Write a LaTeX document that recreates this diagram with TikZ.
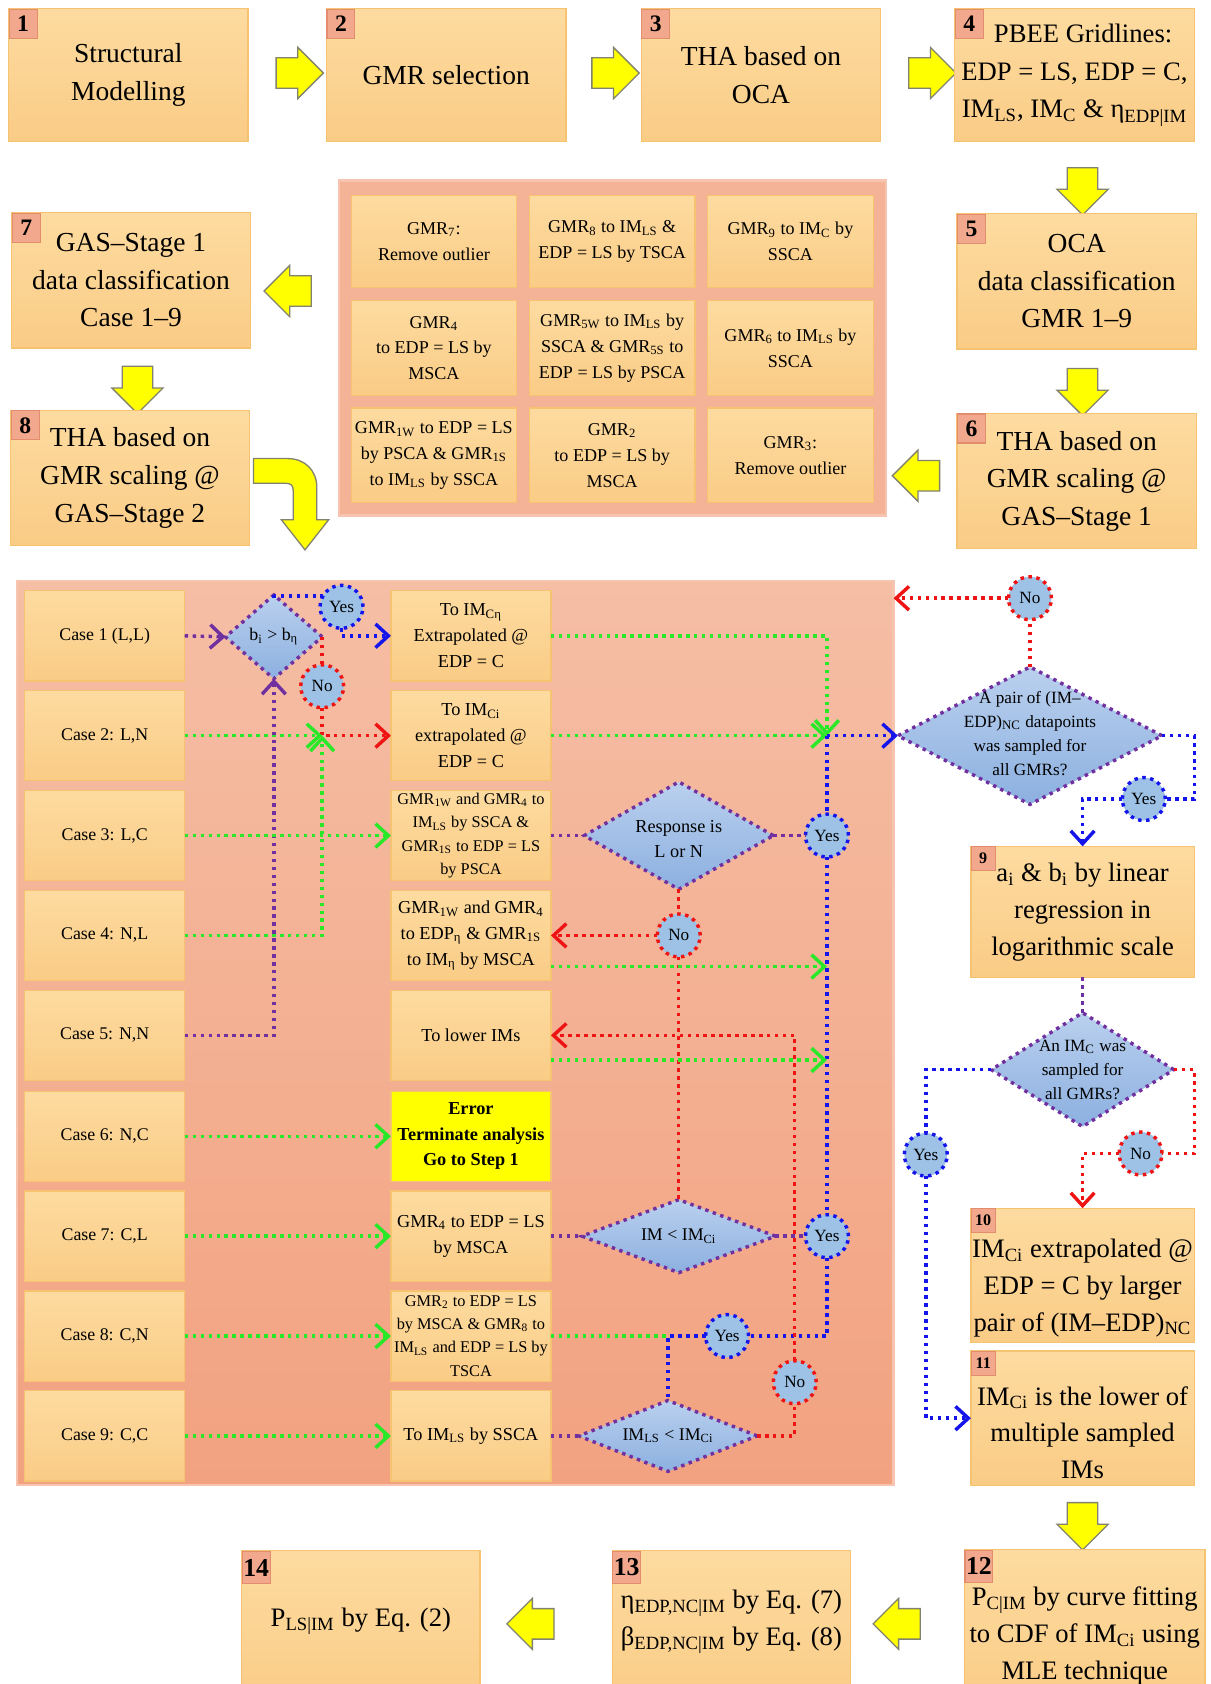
\documentclass[tikz,border=0pt]{standalone}
\usepackage{fontspec}
\setmainfont{Liberation Serif}
\usetikzlibrary{shapes.geometric,shapes.arrows,arrows.meta,calc}
\definecolor{boxtop}{RGB}{253,219,160}
\definecolor{boxbot}{RGB}{250,204,134}
\definecolor{boxedge}{RGB}{246,196,112}
\definecolor{panelA}{RGB}{245,190,165}
\definecolor{panelB}{RGB}{242,162,128}
\definecolor{paneledge}{RGB}{247,196,176}
\definecolor{gpfill}{RGB}{244,178,150}
\definecolor{numfill}{RGB}{242,168,140}
\definecolor{numedge}{RGB}{228,140,110}
\definecolor{diatop}{RGB}{186,208,238}
\definecolor{diabot}{RGB}{140,176,224}
\definecolor{circfill}{RGB}{157,194,230}
\definecolor{cpur}{RGB}{112,48,160}
\definecolor{cblu}{RGB}{20,20,235}
\definecolor{cred}{RGB}{238,20,20}
\definecolor{cgrn}{RGB}{40,232,40}
\definecolor{yarrfill}{RGB}{255,255,0}
\definecolor{yarredge}{RGB}{130,130,110}
\newcommand{\sbs}[1]{\textsubscript{#1}}
\newcommand{\fsz}[2]{\fontsize{#1}{#2}\selectfont}
\tikzset{
  rect/.style n args={4}{minimum width={(#3-#1)*0.5pt}, minimum height={(#4-#2)*0.5pt}, at={({(#1+#3)/2},{(#2+#4)/2})}},
  box/.style={rectangle, inner sep=0pt, outer sep=0pt, top color=boxtop, bottom color=boxbot, draw=boxedge, line width=0.6pt, align=center},
  errbox/.style={rectangle, inner sep=0pt, outer sep=0pt, fill=yarrfill, draw=boxedge, line width=0.6pt, align=center, font=\bfseries\fsz{8.5}{11.8}},
  pnl/.style={rectangle, inner sep=0pt, outer sep=0pt, fill=gpfill, draw=paneledge, line width=1pt},
  bpnl/.style={rectangle, inner sep=0pt, outer sep=0pt, top color=panelA, bottom color=panelB, draw=paneledge, line width=1pt},
  numl/.style={rectangle, fill=numfill, draw=numedge, line width=0.5pt, inner sep=0pt, anchor=north west, minimum width=13pt, minimum height=13.5pt, font=\bfseries\fsz{11}{11}},
  nums/.style={numl, minimum width=11pt, minimum height=11pt, font=\bfseries\fsz{7.5}{7.5}},
  numb/.style={numl, minimum width=13pt, minimum height=15pt, font=\bfseries\fsz{12}{12}},
  tf/.style={font=\fsz{12.8}{17.5}},
  tr/.style={align=center, inner sep=0pt, font=\fsz{12.4}{17.2}},
  cf/.style={font=\fsz{8.3}{11}},
  mf/.style={font=\fsz{8.5}{12}},
  ms/.style={font=\fsz{7.6}{10.8}},
  gf/.style={font=\fsz{8.4}{12}},
  dia/.style={diamond, inner sep=0pt, outer sep=0pt, top color=diatop, bottom color=diabot, draw=cpur, line width=1.6pt, dash pattern=on 1.6pt off 2.1pt},
  dtxt/.style={align=center, inner sep=0pt, font=\fsz{8.3}{11.3}},
  ycirc/.style={circle, inner sep=0pt, outer sep=0pt, minimum size=20pt, fill=circfill, draw=cblu, line width=1.6pt, dash pattern=on 1.6pt off 2.1pt, font=\fsz{8}{8}},
  ncirc/.style={ycirc, draw=cred},
  yar/.style={single arrow, draw=yarredge, fill=yarrfill, line width=0.6pt, inner xsep=0pt, inner ysep=6.8pt, outer sep=0pt, minimum height=22pt, single arrow head extend=4.8pt, single arrow tip angle=90},
  dl/.style={line width=1.6pt, dash pattern=on 1.6pt off 2.1pt},
  pur/.style={dl, draw=cpur},
  blu/.style={dl, draw=cblu},
  rdl/.style={dl, draw=cred},
  grn/.style={dl, draw=cgrn},
  arr/.style={-{Straight Barb[length=6pt,width=11pt]}}
}
\begin{document}
\begin{tikzpicture}[x=0.5pt,y=-0.5pt]
\path[use as bounding box, fill=white] (0,0) rectangle (1127,1568);
\clip (0,0) rectangle (1127,1568);
% ---------- top row
\node[box, tf, rect={8}{8}{231}{132}] (b1) {Structural\\Modelling};
\node[numl] (l1) at (b1.north west) {1};
\node[yar] (a1) at (272,68) {};
\node[box, tf, rect={304}{8}{527}{132}] (b2) {GMR selection};
\node[numl] (l2) at (b2.north west) {2};
\node[yar] (a2) at (566,68) {};
\node[box, tf, rect={597}{8}{820}{132}] (b3) {THA based on\\OCA};
\node[numl] (l3) at (b3.north west) {3};
\node[yar] (a3) at (861,68) {};
\node[box, font=\fsz{12.4}{17.5}, rect={889}{8}{1112}{132}] (b4) {\hspace*{8pt}PBEE Gridlines:\\EDP = LS, EDP = C,\\IM\sbs{LS}, IM\sbs{C} \& η\sbs{EDP|IM}};
\node[numl] (l4) at (b4.north west) {4};
\node[yar, rotate=-90] (a4) at (1008,171) {};
\node[box, tf, rect={891}{199}{1114}{325}] (b5) {OCA\\data classification\\GMR 1–9};
\node[numl] (l5) at (b5.north west) {5};
\node[yar, rotate=-90] (a5) at (1008,358) {};
\node[box, tf, rect={891}{385}{1114}{511}] (b6) {THA based on\\GMR scaling @\\GAS–Stage 1};
\node[numl] (l6) at (b6.north west) {6};
\node[yar, rotate=180] (a6) at (860,443) {};
% ---------- GMR grid panel
\node[pnl, rect={316}{168}{825}{480}] (gp) {};
\node[box, gf, rect={327}{182}{481}{268}] (g11) {GMR\sbs{7}:\\Remove outlier};
\node[box, gf, rect={493}{182}{647}{268}] (g12) {GMR\sbs{8} to IM\sbs{LS} \&\\EDP = LS by TSCA};
\node[box, gf, rect={659}{182}{813}{268}] (g13) {GMR\sbs{9} to IM\sbs{C} by\\SSCA};
\node[box, gf, rect={327}{280}{481}{368}] (g21) {GMR\sbs{4}\\to EDP = LS by\\MSCA};
\node[box, gf, rect={493}{280}{647}{368}] (g22) {GMR\sbs{5W} to IM\sbs{LS} by\\SSCA \& GMR\sbs{5S} to\\EDP = LS by PSCA};
\node[box, gf, rect={659}{280}{813}{368}] (g23) {GMR\sbs{6} to IM\sbs{LS} by\\SSCA};
\node[box, gf, rect={327}{380}{481}{468}] (g31) {GMR\sbs{1W} to EDP = LS\\by PSCA \& GMR\sbs{1S}\\to IM\sbs{LS} by SSCA};
\node[box, gf, rect={493}{380}{647}{468}] (g32) {GMR\sbs{2}\\to EDP = LS by\\MSCA};
\node[box, gf, rect={659}{380}{813}{468}] (g33) {GMR\sbs{3}:\\Remove outlier};
\node[yar, rotate=180] (a7) at (275,271) {};
% ---------- left column
\node[box, tf, rect={11}{198}{233}{324}] (b7) {GAS–Stage 1\\data classification\\Case 1–9};
\node[numl] (l7) at (b7.north west) {7};
\node[yar, rotate=-90] (a8) at (128,356) {};
\node[box, tf, rect={10}{382}{232}{508}] (b8) {THA based on\\GMR scaling @\\GAS–Stage 2};
\node[numl] (l8) at (b8.north west) {8};
\filldraw[fill=yarrfill, draw=yarredge, line width=0.6pt] (236,427) -- (268,427) .. controls (284,427) and (295,438) .. (295,454) -- (295,484) -- (306,484) -- (284,512) -- (262,484) -- (273,484) -- (273,457) .. controls (273,452) and (271,450) .. (266,450) -- (236,450) -- cycle;
% ---------- bottom panel
\node[bpnl, rect={16}{541}{832}{1383}] (bp) {};
\node[box, cf, rect={23}{550}{172}{634}] (c1) {Case 1 (L,L)};
\node[box, cf, rect={23}{643}{172}{727}] (c2) {Case 2: L,N};
\node[box, cf, rect={23}{736}{172}{820}] (c3) {Case 3: L,C};
\node[box, cf, rect={23}{829}{172}{913}] (c4) {Case 4: N,L};
\node[box, cf, rect={23}{922}{172}{1006}] (c5) {Case 5: N,N};
\node[box, cf, rect={23}{1016}{172}{1100}] (c6) {Case 6: N,C};
\node[box, cf, rect={23}{1109}{172}{1193}] (c7) {Case 7: C,L};
\node[box, cf, rect={23}{1202}{172}{1286}] (c8) {Case 8: C,N};
\node[box, cf, rect={23}{1295}{172}{1379}] (c9) {Case 9: C,C};
\node[box, mf, rect={364}{550}{513}{634}] (m1) {To IM\sbs{Cη}\\Extrapolated @\\EDP = C};
\node[box, mf, rect={364}{643}{513}{727}] (m2) {To IM\sbs{Ci}\\extrapolated @\\EDP = C};
\node[box, ms, rect={364}{736}{513}{820}] (m3) {GMR\sbs{1W} and GMR\sbs{4} to\\IM\sbs{LS} by SSCA \&\\GMR\sbs{1S} to EDP = LS\\by PSCA};
\node[box, mf, rect={364}{829}{513}{913}] (m4) {GMR\sbs{1W} and GMR\sbs{4}\\to EDP\sbs{η} \& GMR\sbs{1S}\\to IM\sbs{η} by MSCA};
\node[box, mf, rect={364}{922}{513}{1006}] (m5) {To lower IMs};
\node[errbox, rect={364}{1016}{513}{1100}] (m6) {Error\\Terminate analysis\\Go to Step 1};
\node[box, mf, rect={364}{1109}{513}{1193}] (m7) {GMR\sbs{4} to EDP = LS\\by MSCA};
\node[box, ms, rect={364}{1202}{513}{1286}] (m8) {GMR\sbs{2} to EDP = LS\\by MSCA \& GMR\sbs{8} to\\IM\sbs{LS} and EDP = LS by\\TSCA};
\node[box, mf, rect={364}{1295}{513}{1379}] (m9) {To IM\sbs{LS} by SSCA};
% decisions
\node[dia, minimum width=45pt, minimum height=39pt] (d1) at (255,593) {};
\node[dtxt] (d1t) at (255,593) {b\sbs{i} > b\sbs{η}};
\node[dia, minimum width=88pt, minimum height=50pt] (d3) at (632,778) {};
\node[dtxt, font=\fsz{8.5}{11.8}] (d3t) at (632,781) {Response is\\L or N};
\node[dia, minimum width=90pt, minimum height=34pt] (d4) at (632,1151) {};
\node[dtxt] (d4t) at (632,1151) {IM < IM\sbs{Ci}};
\node[dia, minimum width=83pt, minimum height=33pt] (d5) at (622,1337) {};
\node[dtxt] (d5t) at (622,1337) {IM\sbs{LS} < IM\sbs{Ci}};
\node[ycirc] (y1) at (318,565) {Yes};
\node[ncirc] (n1) at (300,639) {No};
\node[ycirc] (y2) at (770,778) {Yes};
\node[ncirc] (n2) at (632,871) {No};
\node[ycirc] (y3) at (770,1151) {Yes};
\node[ycirc] (y4) at (677,1244) {Yes};
\node[ncirc] (n3) at (740,1287) {No};
% ---------- right column
\node[dia, minimum width=123pt, minimum height=64pt] (d2) at (959,685) {};
\node[dtxt, font=\fsz{8}{11.3}] (d2t) at (959,683) {A pair of (IM–\\EDP)\sbs{NC} datapoints\\was sampled for\\all GMRs?};
\node[ncirc] (n4) at (959,557) {No};
\node[ycirc] (y5) at (1065,744) {Yes};
\node[box, tr, rect={904}{788}{1112}{910}] (b9) {a\sbs{i} \& b\sbs{i} by linear\\regression in\\logarithmic scale};
\node[nums] (l9) at (b9.north west) {9};
\node[dia, minimum width=85pt, minimum height=53pt] (d6) at (1008,996) {};
\node[dtxt, font=\fsz{8}{11.2}] (d6t) at (1008,996) {An IM\sbs{C} was\\sampled for\\all GMRs?};
\node[ycirc] (y6) at (862,1075) {Yes};
\node[ncirc] (n5) at (1062,1074) {No};
\node[box, rect={904}{1125}{1112}{1250}] (b10) {};
\node[nums] (l10) at (b10.north west) {10};
\node[tr] (t10) at (1008,1199) {IM\sbs{Ci} extrapolated @\\EDP = C by larger\\pair of (IM–EDP)\sbs{NC}};
\node[box, rect={904}{1258}{1112}{1383}] (b11) {};
\node[nums] (l11) at (b11.north west) {11};
\node[tr] (t11) at (1008,1334) {IM\sbs{Ci} is the lower of\\multiple sampled\\IMs};
\node[yar, rotate=-90] (a9) at (1008,1414) {};
% ---------- bottom row
\node[box, rect={898}{1443}{1122}{1590}] (b12) {};
\node[numb] (l12) at (b12.north west) {12};
\node[tr] (t12) at (1010,1523) {P\sbs{C|IM} by curve fitting\\to CDF of IM\sbs{Ci} using\\MLE technique};
\node[yar, rotate=180] (a10) at (842,1512) {};
\node[box, rect={570}{1444}{792}{1590}] (b13) {};
\node[numb] (l13) at (b13.north west) {13};
\node[tr] (t13) at (681,1510) {η\sbs{EDP,NC|IM} by Eq. (7)\\β\sbs{EDP,NC|IM} by Eq. (8)};
\node[yar, rotate=180] (a11) at (501,1512) {};
\node[box, rect={225}{1444}{447}{1590}] (b14) {};
\node[numb] (l14) at (b14.north west) {14};
\node[tr] (t14) at (336,1510) {P\sbs{LS|IM} by Eq. (2)};
% ---------- connectors, left part
\coordinate (j1) at (n1.south |- m2.west);
\coordinate (j2) at (770,685);
\draw[pur, arr] (c1.east) -- (d1.west);
\draw[blu] (d1.north) |- (y1.150);
\draw[blu, arr] (y1.south) |- (m1.west);
\draw[rdl] (d1.east) -| (n1.north);
\draw[rdl, arr] (n1.south) |- (m2.west);
\draw[grn, arr] (c2.east) -- (j1);
\draw[grn, arr] (c4.east) -| (j1);
\draw[pur, arr] (c5.east) -| (d1.south);
\draw[grn, arr] (c3.east) -- (m3.west);
\draw[grn, arr] (c6.east) -- (m6.west);
\draw[grn, arr] (c7.east) -- (m7.west);
\draw[grn, arr] (c8.east) -- (m8.west);
\draw[grn, arr] (c9.east) -- (m9.west);
% right part of panel
\draw[grn, arr] (m1.east) -| (j2);
\draw[grn, arr] (m2.east) -- (j2);
\draw[blu, arr] (j2) -- (d2.west);
\draw[blu] (j2) -- (y2.north);
\draw[blu] (y2.south) -- (y3.north);
\draw[blu] (y3.south) |- (y4.east);
\draw[blu] (y4.west) -| (d5.north);
\draw[grn] (m8.east) -- (d5.north |- m8.east);
\draw[pur] (m3.east) -- (d3.west);
\draw[pur] (d3.east) -- (y2.west);
\draw[rdl] (d3.south) -- (n2.north);
\draw[rdl, arr] (n2.west) -- (m4.east);
\draw[rdl] (n2.south) -- (d4.north);
\draw[grn, arr] ($(m4.east)+(0,29)$) -- ($(j2 |- m4.east)+(0,29)$);
\draw[rdl, arr] (n3.north) |- (m5.east);
\draw[grn, arr] ($(m5.east)+(0,23)$) -- ($(j2 |- m5.east)+(0,23)$);
\draw[pur] (m7.east) -- (d4.west);
\draw[pur] (d4.east) -- (y3.west);
\draw[pur] (m9.east) -- (d5.west);
\draw[rdl] (d5.east) -| (n3.south);
% right column connectors
\coordinate (k1) at (1112,744);
\coordinate (k2) at (1112,1074);
\draw[rdl] (d2.north) -- (n4.south);
\draw[rdl, arr] (n4.west) -- (n4.west -| bp.east);
\draw[blu] (d2.east) -| (k1) -- (y5.east);
\draw[blu, arr] (y5.west) -| (b9.north);
\draw[pur] (b9.south) -- (d6.north);
\draw[blu] (d6.west) -| (y6.north);
\draw[blu, arr] (y6.south) |- (b11.west);
\draw[rdl] (d6.east) -| (k2) -- (n5.east);
\draw[rdl, arr] (n5.west) -| (b10.north);
\end{tikzpicture}
\end{document}
